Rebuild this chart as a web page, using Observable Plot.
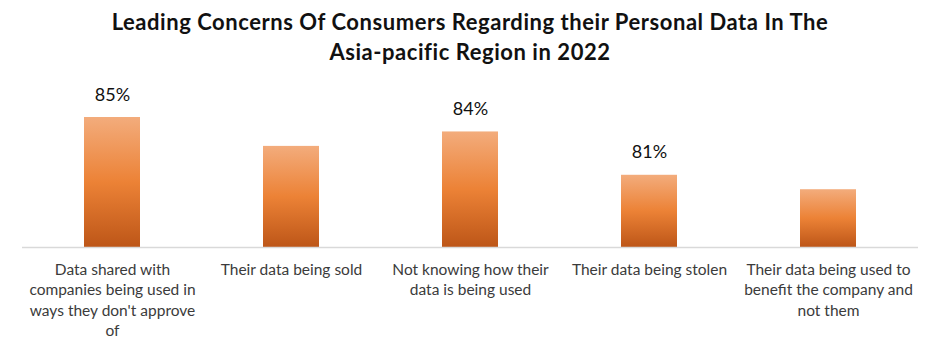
<!DOCTYPE html>
<html><head><meta charset="utf-8">
<script src="https://cdn.jsdelivr.net/npm/d3@7"></script>
<script src="https://cdn.jsdelivr.net/npm/@observablehq/plot@0.6"></script>
<style>
body{margin:0;background:#fff;}
#title{width:940px;height:70px;text-align:center;font-family:Lato,sans-serif;font-weight:bold;font-size:22px;letter-spacing:0.55px;line-height:30px;padding-top:7px;box-sizing:border-box;color:#111;}
#chart svg{display:block;}
</style></head><body>
<div id="title">Leading Concerns Of Consumers Regarding their Personal Data In The<br>Asia-pacific Region in 2022</div>
<div id="chart"></div>
<script>
const categories = [
  "Data shared with companies being used in ways they don't approve of",
  "Their data being sold",
  "Not knowing how their data is being used",
  "Their data being stolen",
  "Their data being used to benefit the company and not them"
];
const values = [85, 83, 84, 81, 80];
const valueLabels = ["85%", null, "84%", "81%", null];
const tickLabels = [
  "Data shared with\ncompanies being used in\nways they don't approve\nof",
  "Their data being sold",
  "Not knowing how their\ndata is being used",
  "Their data being stolen",
  "Their data being used to\nbenefit the company and\nnot them"
];
const yMin = 76;

const data = categories.map((c, i) => ({c, v: values[i], label: valueLabels[i]}));

const plot = Plot.plot({
  width: 940, height: 283,
  marginTop: 47, marginBottom: 106, marginLeft: 22, marginRight: 22,
  style: {fontFamily: "Lato, sans-serif", background: "#fff"},
  x: {domain: categories, paddingInner: 0.687, paddingOuter: 0.3435},
  y: {domain: [yMin, 85], axis: null},
  marks: [
    Plot.barY(data, {x: "c", y1: yMin, y2: "v", fill: "url(#barGrad)"}),
    Plot.ruleY([yMin], {stroke: "#d9d9d9", strokeWidth: 1.5}),
    Plot.text(data.filter(d => d.label), {x: "c", y: "v", text: "label", dy: -17, lineAnchor: "bottom", fontSize: 18, fill: "#111"}),
    Plot.axisX({tickSize: 0, tickPadding: 13, fontSize: 15.5, lineHeight: 1.32, color: "#3b3b3b",
      tickFormat: d => tickLabels[categories.indexOf(d)], label: null})
  ]
});
d3.select(plot).insert("defs", ":first-child").html(
  '<linearGradient id="barGrad" x1="0" y1="0" x2="0" y2="1">' +
  '<stop offset="0" stop-color="#F3AC7C"/><stop offset="0.5" stop-color="#EC8236"/><stop offset="1" stop-color="#BD5618"/>' +
  '</linearGradient>');
document.getElementById("chart").appendChild(plot);
</script>
</body></html>
